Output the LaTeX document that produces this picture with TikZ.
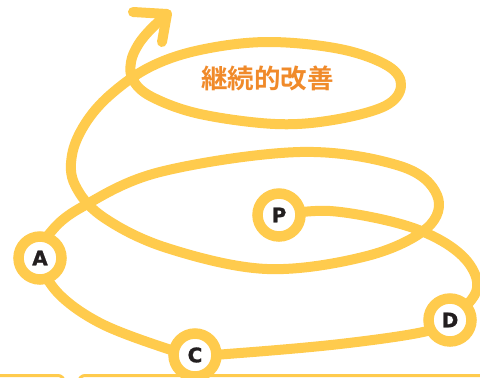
\documentclass[tikz,border=0pt]{standalone}
\usepackage{fontspec}
\newfontfamily\cjk{Noto Sans CJK JP Bold}
\newfontfamily\lab[FakeBold=1.2]{DejaVu Sans Bold}
\definecolor{sy}{HTML}{FFCB4D}
\definecolor{so}{HTML}{F08A2A}
\definecolor{sk}{HTML}{231F20}
\tikzset{
  spiral/.style={draw=sy, line width=10pt, line cap=round, line join=round},
  stage/.style={circle, draw=sy, fill=white, line width=10.5pt, minimum size=43pt, inner sep=0pt,
    font=\lab\fontsize{20}{20}\selectfont, text=sk},
  panel/.style={draw=sy, line width=3pt, rounded corners=6pt}
}
\begin{document}
\begin{tikzpicture}[x=1pt,y=-1pt]
\useasboundingbox (0,0) rectangle (480,378);
\clip (0,0) rectangle (480,378);
\coordinate (Pc) at (279,215);
\coordinate (Dc) at (450,320);
\coordinate (Cc) at (195,355);
\coordinate (Ac) at (40,258);
\coordinate (tip) at (167,14);
\coordinate (barbL) at (133,12);
\coordinate (barbD) at (162,42);
% bottom panels
\draw[panel] (-20,420) -- (-20,375.5) -- (64,375.5) -- (64,420);
\draw[panel] (79,420) -- (79,375.5) -- (500,375.5) -- (500,420);
% spiral
\draw[spiral] plot[smooth, tension=0.6] coordinates {
 (Pc) (330,211) (397,223) (442,241) (470,265) (476,292) (Dc)
 (423,332) (340,344) (240,353) (Cc)
 (165,348) (100,323) (57,292) (Ac)
 (50,233) (82,207) (160,172) (300,152) (400,166) (437,195) (427,228)
 (367,256) (267,269) (167,248) (103,217) (75,185) (72,155) (85,124) (110,95)
 (150,67) (200,50) (267,42) (340,49) (388,66) (401,86) (385,106) (333,120)
 (275,124) (200,114) (152,97) (133,80) (131,62) (138,45) (150,30) (tip)};
\draw[spiral] (barbL) -- (tip) -- (barbD);
\node[stage] (P) at (Pc) {P};
\node[stage] (D) at (Dc) {D};
\node[stage] (C) at (Cc) {C};
\node[stage] (A) at (Ac) {A};
\node[font=\cjk\fontsize{26.5}{26.5}\selectfont, text=so] (T) at (267.5,78) {継続的改善};
\end{tikzpicture}
\end{document}
